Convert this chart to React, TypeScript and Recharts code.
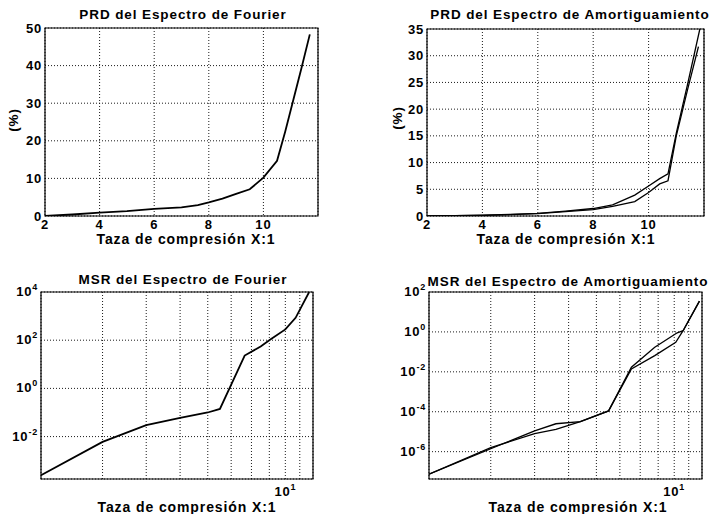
import React from "react";
import { LineChart, Line, XAxis, YAxis, CartesianGrid, ReferenceArea } from "recharts";

const FONT = '"Liberation Sans", Arial, Helvetica, sans-serif';

// Taza de compresión (X:1) vs. error, one pair of arrays per curve
const prdFourierX = [2, 3, 4, 5, 6, 7, 7.6, 8, 8.5, 9, 9.5, 10, 10.5, 10.8, 11.1, 11.4, 11.7];
const prdFourierY = [0, 0.4, 0.9, 1.3, 1.9, 2.3, 2.9, 3.6, 4.6, 5.9, 7.1, 10.2, 14.7, 22.5, 31, 39.5, 48.3];

const prdAmortX1 = [2, 3, 4, 5, 6, 7, 8, 8.7, 9.5, 10, 10.4, 10.7, 11.0, 11.4, 11.85];
const prdAmortY1 = [0, 0.05, 0.15, 0.3, 0.5, 0.9, 1.4, 2.1, 3.9, 5.6, 7.0, 7.9, 15.5, 24.5, 35];
const prdAmortX2 = [2, 3, 4, 5, 6, 7, 8, 8.7, 9.5, 10, 10.4, 10.7, 11.0, 11.4, 11.8];
const prdAmortY2 = [0, 0.05, 0.1, 0.25, 0.45, 0.8, 1.2, 1.8, 2.7, 4.4, 6.0, 6.6, 15, 23.5, 31.7];

const msrFourierX = [2, 3, 4, 5, 6, 6.5, 7.65, 8.5, 9.06, 10, 10.7, 11.7];
const msrFourierY = [2.5e-4, 6e-3, 3e-2, 6e-2, 0.1, 0.14, 23, 55, 107, 280, 850, 1e4];

const msrAmortX1 = [2, 3, 4, 4.6, 5.4, 6.5, 7.55, 8.8, 10.2, 10.6, 11.8];
const msrAmortY1 = [7.5e-8, 1.4e-6, 1.1e-5, 2.5e-5, 3.2e-5, 1.1e-4, 1.7e-2, 0.17, 0.9, 1.15, 35];
const msrAmortX2 = [2, 3, 4, 4.6, 5.4, 6.5, 7.55, 8.8, 10.1, 10.6, 11.8];
const msrAmortY2 = [7.5e-8, 1.6e-6, 8e-6, 1.3e-5, 3.2e-5, 1.1e-4, 1.4e-2, 6.5e-2, 0.3, 1.15, 35];

// axis ticks
const linXTicks = [2, 4, 6, 8, 10];
const prdFourierYTicks = [0, 10, 20, 30, 40, 50];
const prdAmortYTicks = [0, 5, 10, 15, 20, 25, 30, 35];
const logXTicks = [3, 4, 5, 6, 7, 8, 9, 10, 11];
const msrFourierYTicks = [1e-2, 1, 1e2, 1e4];
const msrAmortYTicks = [1e-6, 1e-4, 1e-2, 1, 1e2];

const X_LABEL = "Taza de compresión X:1";

type Series = { x: number[]; y: number[]; width: number };

const rows = (xs: number[], ys: number[]) => xs.map((x, i) => ({ x, y: ys[i] }));

const tickStyle = { fill: "#000", fontSize: 13, fontWeight: 700, fontFamily: FONT, letterSpacing: 0.8 };

function PowYTick(props: any) {
  const { x, y, payload } = props;
  const e = Math.round(Math.log10(payload.value));
  return (
    <text x={x} y={y + 4} textAnchor="end" fill="#000" fontSize={13} fontWeight={700} fontFamily={FONT} style={{ letterSpacing: 0.8 }}>
      10<tspan dy={-6} fontSize={9}>{e}</tspan>
    </text>
  );
}

function PowXTick(props: any) {
  const { x, y, payload } = props;
  if (Math.abs(payload.value - 10) > 1e-6) return <g />;
  return (
    <text x={x} y={y + 13} textAnchor="middle" fill="#000" fontSize={13} fontWeight={700} fontFamily={FONT} style={{ letterSpacing: 0.8 }}>
      10<tspan dy={-6} fontSize={9}>1</tspan>
    </text>
  );
}

interface PanelProps {
  left: number;
  top: number;
  width: number;
  height: number;
  plot: [number, number, number, number];
  log?: boolean;
  yDomain: [number, number];
  yTicks: number[];
  series: Series[];
}

function Panel({ left, top, width, height, plot, log, yDomain, yTicks, series }: PanelProps) {
  const [x0, y0, x1, y1] = plot;
  const xh = 24;
  const margin = {
    top: y0 - top,
    left: 0,
    right: left + width - x1,
    bottom: top + height - y1 - xh,
  };
  return (
    <div style={{ position: "absolute", left, top }}>
      <LineChart width={width} height={height} margin={margin}>
        <CartesianGrid stroke="#000" strokeDasharray="1 2" strokeWidth={0.9} />
        <XAxis
          dataKey="x"
          type="number"
          scale={log ? "log" : "linear"}
          domain={[2, 12]}
          allowDataOverflow
          ticks={log ? logXTicks : linXTicks}
          interval={0}
          height={xh}
          axisLine={false}
          tickLine={false}
          tickSize={0}
          tickMargin={4}
          tick={log ? <PowXTick /> : tickStyle}
        />
        <YAxis
          type="number"
          scale={log ? "log" : "linear"}
          domain={yDomain}
          allowDataOverflow
          ticks={yTicks}
          interval={0}
          width={x0 - left}
          axisLine={false}
          tickLine={false}
          tickSize={0}
          tickMargin={3}
          tick={log ? <PowYTick /> : tickStyle}
        />
        {series.map((s, i) => (
          <Line
            key={i}
            data={rows(s.x, s.y)}
            dataKey="y"
            type="linear"
            stroke="#000"
            strokeWidth={s.width}
            dot={false}
            isAnimationActive={false}
          />
        ))}
        <ReferenceArea x1={2} x2={12} y1={yDomain[0]} y2={yDomain[1]} fill="none" stroke="#000" strokeWidth={1.2} />
      </LineChart>
    </div>
  );
}

function Caption({ x, y, text, size, rotate }: { x: number; y: number; text: string; size: number; rotate?: boolean }) {
  return (
    <div
      style={{
        position: "absolute",
        left: x,
        top: y,
        transform: `translate(-50%, -50%)${rotate ? " rotate(-90deg)" : ""}`,
        whiteSpace: "nowrap",
        fontFamily: FONT,
        fontWeight: 700,
        fontSize: size,
        letterSpacing: 0.9,
        lineHeight: "16px",
        color: "#000",
      }}
    >
      {text}
    </div>
  );
}

export default function App() {
  return (
    <div style={{ position: "absolute", left: 0, top: 0, width: 715, height: 514, background: "#fff" }}>
      <Panel
        left={0}
        top={0}
        width={357}
        height={257}
        plot={[45, 28, 318, 216]}
        yDomain={[0, 50]}
        yTicks={prdFourierYTicks}
        series={[{ x: prdFourierX, y: prdFourierY, width: 1.8 }]}
      />
      <Panel
        left={357}
        top={0}
        width={358}
        height={257}
        plot={[427, 29, 704, 216]}
        yDomain={[0, 35]}
        yTicks={prdAmortYTicks}
        series={[
          { x: prdAmortX1, y: prdAmortY1, width: 1.3 },
          { x: prdAmortX2, y: prdAmortY2, width: 1.3 },
        ]}
      />
      <Panel
        left={0}
        top={257}
        width={357}
        height={257}
        plot={[41, 292, 313, 479]}
        log
        yDomain={[Math.pow(10, -3.76), 1e4]}
        yTicks={msrFourierYTicks}
        series={[{ x: msrFourierX, y: msrFourierY, width: 1.8 }]}
      />
      <Panel
        left={357}
        top={257}
        width={358}
        height={257}
        plot={[429, 292, 702, 479]}
        log
        yDomain={[Math.pow(10, -7.37), 1e2]}
        yTicks={msrAmortYTicks}
        series={[
          { x: msrAmortX1, y: msrAmortY1, width: 1.3 },
          { x: msrAmortX2, y: msrAmortY2, width: 1.3 },
        ]}
      />

      <Caption x={183} y={15} size={13.5} text="PRD del Espectro de Fourier" />
      <Caption x={570} y={15} size={13.5} text="PRD del Espectro de Amortiguamiento" />
      <Caption x={183} y={280} size={13.5} text="MSR del Espectro de Fourier" />
      <Caption x={568} y={282} size={13.5} text="MSR del Espectro de Amortiguamiento" />

      <Caption x={186} y={239} size={14} text={X_LABEL} />
      <Caption x={566} y={239} size={14} text={X_LABEL} />
      <Caption x={187} y={507} size={14} text={X_LABEL} />
      <Caption x={578} y={507} size={14} text={X_LABEL} />

      <Caption x={14} y={120} size={13.5} text="(%)" rotate />
      <Caption x={398} y={118} size={13.5} text="(%)" rotate />
    </div>
  );
}
